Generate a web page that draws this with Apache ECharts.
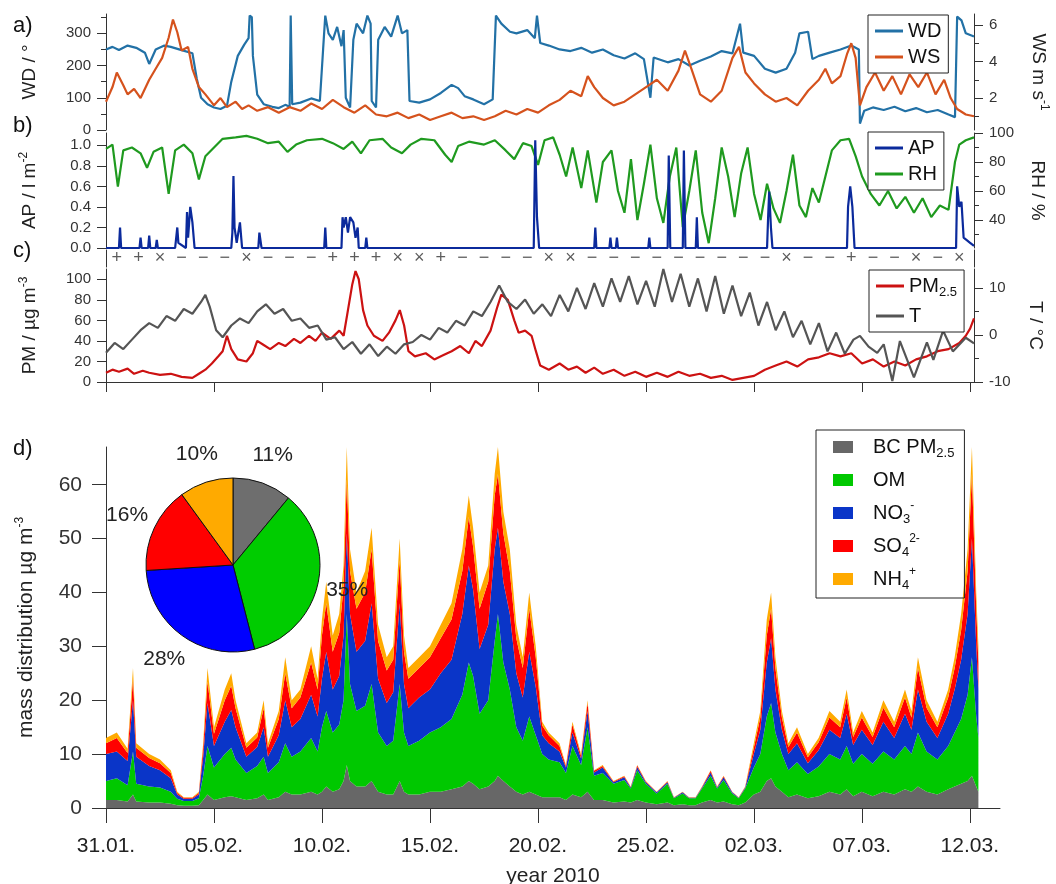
<!DOCTYPE html>
<html>
<head>
<meta charset="utf-8">
<script src="https://cdn.jsdelivr.net/npm/echarts@6/dist/echarts.min.js"></script>
<style>
html, body { margin: 0; padding: 0; background: #fff; }
#chart { width: 1056px; height: 884px; }
</style>
</head>
<body>
<div id="chart"></div>
<script>
const FONT = '"Liberation Sans", Arial, sans-serif';
const axisColor = '#333';

// x is in days since 31.01.2010 00:00
const dateTicks = [0, 5, 10, 15, 20, 25, 30, 35, 40];
const dateLabels = ['31.01.', '05.02.', '10.02.', '15.02.', '20.02.', '25.02.', '02.03.', '07.03.', '12.03.'];

// panel a
const wdTicks = [0, 100, 200, 300];
const wdMinor = [50, 150, 250, 350];
const wsTicks = [2, 4, 6];
const wsMinor = [1, 3, 5];
const wd = [[0,250],[0.3,258],[0.6,248],[1,262],[1.4,255],[1.8,240],[2,205],[2.3,250],[2.7,262],[3,258],[3.5,248],[4,238],[4.2,160],[4.4,100],[4.7,80],[5,70],[5.3,65],[5.6,75],[5.8,150],[6.1,230],[6.4,265],[6.6,285],[6.65,355],[6.75,350],[6.8,230],[7,110],[7.3,80],[7.7,72],[8,68],[8.3,78],[8.5,72],[8.55,355],[8.62,80],[9,85],[9.5,98],[9.9,90],[10.05,250],[10.15,355],[10.3,300],[10.5,280],[10.7,320],[10.9,260],[11,310],[11.1,100],[11.3,70],[11.45,280],[11.6,330],[11.9,300],[12.1,355],[12.25,330],[12.3,90],[12.5,70],[12.6,280],[12.9,320],[13.2,290],[13.5,355],[13.7,300],[13.95,310],[14.05,90],[14.5,85],[15,95],[15.5,115],[16,140],[16.3,130],[16.6,105],[17,95],[17.5,80],[17.9,95],[18.05,355],[18.3,330],[18.7,305],[19,300],[19.5,310],[19.85,285],[19.95,355],[20.1,270],[20.5,262],[21,250],[21.5,245],[22,255],[22.5,240],[23,250],[23.5,232],[24,222],[24.5,238],[24.9,220],[25.2,100],[25.35,225],[26,210],[26.5,220],[27,200],[27.5,215],[28,228],[28.5,245],[29,238],[29.35,330],[29.5,240],[30,230],[30.5,190],[31,178],[31.5,190],[31.9,240],[32.1,300],[32.5,305],[32.7,220],[33,230],[33.5,240],[34,250],[34.5,262],[34.85,250],[34.9,20],[35.1,60],[35.5,70],[36,62],[36.5,72],[37,58],[37.5,68],[38,55],[38.5,62],[39,48],[39.3,40],[39.4,352],[39.6,340],[39.8,300],[40.18,290]];
const ws = [[0,1.8],[0.3,2.6],[0.5,3.4],[0.8,2.7],[1,2.2],[1.3,2.5],[1.6,2.0],[2,3.0],[2.3,3.6],[2.6,4.2],[2.9,5.3],[3.1,6.3],[3.3,5.6],[3.5,4.6],[3.8,4.8],[4,3.6],[4.3,2.6],[4.6,2.2],[5,1.6],[5.3,2.0],[5.6,1.5],[6,1.8],[6.3,1.4],[6.6,1.6],[7,1.3],[7.5,1.5],[8,1.2],[8.5,1.5],[9,1.3],[9.5,1.7],[10,1.4],[10.5,1.9],[11,1.5],[11.5,1.2],[12,1.6],[12.5,1.1],[13,1.0],[13.5,1.2],[14,0.9],[14.5,1.1],[15,0.8],[15.5,1.0],[16,1.2],[16.5,0.9],[17,1.0],[17.5,0.8],[18,1.0],[18.5,1.3],[19,1.1],[19.5,1.4],[20,1.2],[20.5,1.6],[21,1.9],[21.5,2.4],[22,2.1],[22.3,3.2],[22.6,2.6],[23,2.0],[23.5,1.6],[24,1.8],[24.5,2.2],[25,2.6],[25.5,3.0],[26,2.4],[26.5,3.5],[26.8,4.6],[27.1,3.6],[27.5,2.2],[28,1.8],[28.5,2.4],[29,4.2],[29.3,4.8],[29.6,3.4],[30,2.8],[30.5,2.2],[31,1.8],[31.5,2.0],[32,1.6],[32.5,2.4],[33,3.0],[33.3,3.6],[33.6,2.8],[34,3.2],[34.3,4.4],[34.5,5.0],[34.7,4.2],[34.9,1.6],[35.2,2.6],[35.6,3.4],[36,2.4],[36.4,3.2],[36.8,2.2],[37.2,3.3],[37.6,2.6],[38,3.4],[38.4,2.2],[38.8,3.0],[39.1,2.0],[39.4,1.4],[39.8,1.1],[40.18,1.0]];

// panel b
const apTicks = [0, 0.2, 0.4, 0.6, 0.8, 1.0];
const rhTicks = [40, 60, 80, 100];
const rhMinor = [30, 50, 70, 90];
const ap = [[0,0],[0.6,0],[0.65,0.2],[0.7,0],[1.55,0],[1.6,0.1],[1.65,0],[1.95,0],[2.0,0.12],[2.05,0],[2.3,0],[2.35,0.08],[2.4,0],[3.2,0],[3.3,0.2],[3.35,0.05],[3.7,0],[3.75,0.35],[3.8,0.1],[3.9,0.4],[4.0,0.25],[4.1,0],[5.8,0],[5.85,0.15],[5.9,0.7],[5.95,0.2],[6.05,0.05],[6.2,0.25],[6.3,0],[7.05,0],[7.1,0.15],[7.2,0],[10.1,0],[10.15,0.2],[10.2,0],[10.9,0],[10.95,0.3],[11.0,0.2],[11.1,0.3],[11.2,0.15],[11.3,0.3],[11.45,0.25],[11.55,0.1],[11.65,0.2],[11.7,0],[12.0,0],[12.05,0.1],[12.1,0],[19.8,0],[19.87,1.05],[19.95,0.3],[20.05,0],[22.6,0],[22.65,0.2],[22.7,0],[23.3,0],[23.35,0.1],[23.4,0],[23.6,0],[23.65,0.1],[23.7,0],[25.1,0],[25.15,0.1],[25.2,0],[26.0,0],[26.05,0.9],[26.12,0],[26.7,0],[26.75,0.95],[26.82,0],[27.3,0],[27.35,0.3],[27.4,0],[30.6,0],[30.65,0.3],[30.7,0.55],[30.78,0.2],[30.85,0],[34.3,0],[34.35,0.4],[34.45,0.6],[34.55,0.4],[34.65,0],[39.35,0],[39.4,0.6],[39.5,0.4],[39.6,0.45],[39.7,0.1],[40,0.05],[40.18,0.02]];
const rh = [[0,89],[0.3,92],[0.55,63],[0.8,88],[1.2,90],[1.6,86],[1.9,76],[2.2,87],[2.6,90],[2.9,58],[3.2,88],[3.6,92],[4.0,86],[4.3,68],[4.6,84],[5.0,90],[5.4,96],[6,97],[6.5,98],[7,96],[7.5,93],[8,94],[8.4,87],[8.8,92],[9.3,95],[10,96],[10.5,93],[11,89],[11.4,94],[11.8,86],[12.2,95],[12.8,96],[13.2,90],[13.7,86],[14.1,92],[14.6,96],[15.2,95],[15.7,85],[16,80],[16.3,91],[16.8,94],[17.5,92],[18,95],[18.5,88],[18.9,82],[19.3,93],[19.7,91],[20.0,78],[20.3,95],[20.7,97],[21.0,85],[21.3,70],[21.6,90],[22.0,62],[22.3,88],[22.7,52],[23.0,80],[23.4,88],[23.7,60],[24.0,45],[24.3,82],[24.6,40],[24.9,65],[25.2,92],[25.5,55],[25.8,38],[26.1,70],[26.4,90],[26.7,35],[27.0,60],[27.3,88],[27.6,45],[27.9,24],[28.2,55],[28.5,90],[28.8,70],[29.1,42],[29.4,72],[29.7,90],[30.0,58],[30.3,40],[30.6,65],[30.9,48],[31.2,38],[31.5,60],[31.8,85],[32.1,50],[32.4,42],[32.7,62],[33.0,52],[33.3,70],[33.6,88],[34.0,95],[34.4,96],[34.7,84],[35.0,70],[35.4,58],[35.8,50],[36.2,60],[36.6,48],[37.0,56],[37.4,45],[37.8,55],[38.2,42],[38.6,50],[39.0,47],[39.3,80],[39.5,92],[39.8,95],[40.18,97]];

// weather regime of each day (row between b and c)
const regimes = ['+','+','×','−','−','−','×','−','−','−','+','+','+','×','×','+','−','−','−','−','×','×','−','−','−','−','−','−','−','−','−','×','−','−','+','−','−','×','−','×'];

// panel c
const pmTicks = [0, 20, 40, 60, 80, 100];
const tTicks = [-10, 0, 10];
const tMinor = [-5, 5];
const pm25 = [[0,9],[0.3,12],[0.6,10],[1,13],[1.3,8],[1.7,11],[2,9],[2.5,7],[3,8],[3.5,5],[4,4],[4.3,8],[4.6,12],[4.9,18],[5.2,25],[5.4,30],[5.6,45],[5.8,32],[6.1,22],[6.5,20],[6.8,28],[7,40],[7.3,36],[7.6,32],[8,38],[8.3,35],[8.7,42],[9,38],[9.4,45],[9.7,40],[10,48],[10.4,42],[10.8,50],[11,45],[11.2,70],[11.4,95],[11.55,108],[11.7,100],[11.9,70],[12.1,55],[12.4,45],[12.8,40],[13.1,48],[13.4,60],[13.6,70],[13.8,55],[14,30],[14.3,25],[14.8,28],[15.2,22],[15.6,26],[16,30],[16.4,35],[16.8,28],[17.1,40],[17.4,35],[17.8,50],[18.1,72],[18.3,85],[18.6,80],[18.9,60],[19.1,48],[19.4,50],[19.7,45],[19.9,30],[20.1,16],[20.5,12],[21,18],[21.4,12],[21.8,15],[22.2,9],[22.6,14],[23,8],[23.5,12],[24,6],[24.5,10],[25,5],[25.5,9],[26,5],[26.5,10],[27,6],[27.5,8],[28,4],[28.5,6],[29,2],[29.5,4],[30,6],[30.5,12],[31,16],[31.5,20],[32,15],[32.5,22],[33,24],[33.5,28],[34,25],[34.5,28],[35,18],[35.5,22],[36,15],[36.5,20],[37,16],[37.5,22],[38,25],[38.5,30],[39,32],[39.5,38],[39.8,45],[40,52],[40.18,62]];
const temp = [[0,-3.8],[0.4,-1.7],[0.8,-3],[1.2,-1],[1.6,1],[2,2.5],[2.4,1.5],[2.8,4],[3.2,3],[3.6,5.5],[4,4.5],[4.4,7],[4.6,8.5],[4.8,6],[5.1,1],[5.4,-0.5],[5.8,2],[6.2,3.5],[6.6,2.5],[7,5],[7.4,6.5],[7.8,4.5],[8.2,5.5],[8.6,3],[9,3.5],[9.4,1.5],[9.8,2],[10.2,-1],[10.6,-0.5],[11,-3],[11.4,-1.5],[11.8,-4],[12.2,-2],[12.6,-4.5],[13,-2.5],[13.4,-4],[13.8,-2],[14.2,-1.5],[14.6,0],[15,-1],[15.4,1.5],[15.8,0.5],[16.2,3],[16.6,2],[17,5],[17.4,4],[17.8,7],[18.2,10.5],[18.6,7],[19,5.5],[19.4,7.5],[19.8,4.5],[20.2,6.5],[20.6,4],[21,8.5],[21.4,5],[21.8,10],[22.2,5.5],[22.6,11],[23,6],[23.4,12],[23.8,7],[24.2,12.5],[24.6,6.5],[25,11.5],[25.4,6],[25.8,14],[26.2,7],[26.6,13],[27,6],[27.4,12],[27.8,5],[28.2,12.5],[28.6,4.5],[29,10.5],[29.4,4],[29.8,9],[30.2,2],[30.6,7],[31,1],[31.4,5],[31.8,-0.5],[32.2,3],[32.6,-2],[33,2.5],[33.4,-3.5],[33.8,0.5],[34.2,-4],[34.6,-1],[34.9,-0.2],[35.3,-2.5],[35.7,-3.8],[36.0,-2],[36.4,-9.8],[36.75,-1.3],[37.4,-9],[38.0,-1.6],[38.3,-5.3],[38.75,0.9],[39.2,-3.5],[39.8,-0.6],[40.18,-1.8]];

// panel d, mass concentrations in ug/m3
const massTicks = [0, 10, 20, 30, 40, 50, 60];
const dDays = [0,0.5,1,1.25,1.4,2,2.5,3,3.3,3.6,4,4.3,4.5,4.7,5,5.5,5.8,6,6.5,7,7.3,7.5,8,8.3,8.6,9,9.5,9.8,10,10.2,10.5,10.8,11,11.15,11.3,11.6,12,12.3,12.6,13,13.3,13.6,13.8,14,14.5,15,15.5,16,16.5,16.8,17,17.3,17.7,18,18.15,18.4,18.7,19,19.3,19.6,19.9,20.2,20.5,21,21.3,21.6,22,22.3,22.6,23,23.5,24,24.3,24.6,25,25.5,26,26.3,26.7,27,27.3,27.6,28,28.3,28.6,29,29.3,29.6,30,30.3,30.6,30.8,31,31.3,31.6,32,32.5,33,33.5,34,34.3,34.6,35,35.5,36,36.5,37,37.3,37.6,38,38.5,39,39.3,39.6,39.9,40.1,40.3,40.4];
const bc  = [1.5,1.5,1.2,2.5,1.2,1,1,0.8,0.5,0.4,0.4,0.5,1.5,2.5,1.5,2,2.2,2,1.5,1.8,2.5,1.5,2,3,2.5,2.5,3,2.5,3,4,3,3.5,5,8,5,4,4,5,3,2.5,2.5,5,3,2.5,2.5,3,3,3.5,4,5,4.5,3.5,4,5,6,5,4,3,2.5,3,2.5,2,2,2,1.5,2.5,2,3,1.5,1.5,1,1.2,1,1.5,1,0.7,1,0.5,0.7,0.5,0.5,1,1.5,1,1.2,0.7,0.5,1,2.5,3,5,5.5,4,3,2,2.5,1.8,2.2,3,2.5,3.5,2.2,3,2.2,3,2.5,3.5,3,4,3,2.5,3.5,4,4.5,5,6,4,3];
const om  = [3.5,4,3,8,3.3,3,2.8,2.2,1.2,0.9,0.9,1.3,4.5,9,6,8,9,7,5,6,7,5,6.5,9,7,8,10,8,12,14,11,12,15,28,18,14,15,18,11,9,10,18,11,9,10,11,12,13,17,22,20,14,16,26,30,22,18,12,10,14,11,8,7,6.5,5,9,6,12,4.5,5,3.5,4,2.6,5.5,3.5,2,3.5,1.3,2,1.3,1.3,2.6,4.5,2.6,4,2,1.3,2.6,5,7,12,14,10,7,5,6,4.5,5.5,7,6.5,8,6,7,6,7.5,6.5,8,7,10,7.5,6.5,8,10,12,16,22,13,10];
const no3 = [5,5,4.5,9.5,5,3.8,3.2,2.5,0.8,0.4,0.4,0.7,3.5,8,4,6,7,6,3,3.5,5.5,3,5,8,5.5,6,8,6.5,9,11,8,9,12,15,13,11,12,15,10,8,9,15,9,7,8,8,10,11,15,18,16,12,14,17,16,15,14,10,8,12,9,3.5,3,2,1,2.5,1.2,3,0.6,1,0.3,0.5,0.2,0.6,0.3,0.2,0.3,0.1,0.2,0.1,0.1,0.2,0.6,0.2,0.5,0.2,0.1,0.2,2.5,4.5,10,12,8,4.5,3,3.5,2,3,4.5,4,6,3.5,4.5,3.5,5.5,4,6,4.5,8,5.5,4,6,8,11,15,22,13,9];
const so4 = [2,2.5,1.5,4,1.7,1.5,1.3,1,0.3,0.2,0.2,0.3,1.7,4,2.3,4,4.5,3.5,1.7,1.8,3.5,1.7,3,5,3.5,4,6,5,8,9,7,8,9,10,8,8,9,10,7,6,6,8,6,5.5,5.5,6,6.5,7.5,8,9,8,7.5,8,10,10,9,8,6.5,5.5,8,5.5,1.8,1.5,1,0.3,1.5,0.5,1.5,0.3,0.3,0.1,0.2,0.1,0.3,0.1,0.05,0.1,0.05,0.05,0.05,0.05,0.1,0.3,0.1,0.2,0.05,0.05,0.1,1.2,2.3,5,5.5,4,2.3,1.3,2,1.1,1.5,2.3,2,3,1.5,2.3,1.5,2.6,2,3,2.3,4,2.6,2,3,4,5.5,8,12,7,5];
const nh4 = [1,1,0.8,2,0.8,0.7,0.7,0.5,0.2,0.1,0.1,0.2,0.8,2.5,1.2,2,2.3,1.5,0.8,0.9,1.5,0.8,1.5,3,1.5,1.5,3,2,3,4,3,3.5,4,6,4,3,4,4,3,2.5,2.5,4,3,2,2,2,2.5,3,4,4,3.5,3,3,4,5,4,4,2.5,2,3,2,0.7,0.5,0.5,0.2,0.5,0.3,0.5,0.1,0.2,0.1,0.1,0.1,0.1,0.1,0.05,0.1,0.05,0.05,0.05,0.05,0.1,0.1,0.1,0.1,0.05,0.05,0.1,0.8,1.2,3,3,2,1.2,0.7,1,0.6,0.8,1.2,1,1.5,0.8,1.2,0.8,1.4,1,1.5,1.2,2,1.4,1,1.5,2,3,4,5,3,3];

// inset pie, average composition in %
const pieNames = ['BC share', 'OM share', 'NO3 share', 'SO4 share', 'NH4 share'];
const pieShares = [11, 35, 28, 16, 10];

const colors = {
  WD: '#2271a6', WS: '#d5521d', AP: '#0b2a9c', RH: '#1f9a1f', PM: '#cc1212', T: '#555555',
  BC: '#676767', OM: '#00c800', NO3: '#0a35c8', SO4: '#ff0000', NH4: '#ffaa00'
};
const pieColors = ['#6e6e6e', '#00cc00', '#0000ff', '#ff0000', '#ffaa00'];

const rich = {
  sup: { fontSize: 12, lineHeight: 14, verticalAlign: 'top', fontFamily: FONT },
  sub: { fontSize: 13, lineHeight: 14, verticalAlign: 'bottom', fontFamily: FONT }
};

function xAx(grid, max, show) {
  return {
    type: 'value', gridIndex: grid, min: 0, max: max, show: show,
    splitLine: { show: false }
  };
}

function yAx(grid, pos, min, max, ticks, opts) {
  opts = opts || {};
  return {
    type: 'value', gridIndex: grid, position: pos, min: min, max: max,
    splitLine: { show: false },
    axisLine: { show: opts.line !== false, lineStyle: { color: axisColor, width: 1 } },
    axisTick: { show: ticks.length > 0, customValues: ticks, length: opts.tickLen || 9, lineStyle: { color: axisColor } },
    axisLabel: {
      show: !opts.noLabel, customValues: ticks, fontSize: opts.fontSize || 15, color: '#333',
      margin: opts.margin || 15, fontFamily: FONT, formatter: opts.formatter
    },
    name: opts.name, nameLocation: 'middle', nameGap: opts.nameGap, nameRotate: pos === 'left' ? 90 : -90,
    nameTextStyle: { fontSize: opts.nameSize || 19, color: '#222', fontFamily: FONT, lineHeight: 24, rich: rich }
  };
}

function lineSeries(name, data, idx, yi, color) {
  return {
    name: name, type: 'line', xAxisIndex: idx, yAxisIndex: yi, data: data,
    symbol: 'none', lineStyle: { color: color, width: 2.2 }, itemStyle: { color: color }
  };
}

// rows are [value, day]: the value column comes first so that the stack sums the values, not the days
function areaSeries(name, vals, color) {
  return {
    name: name, type: 'line', xAxisIndex: 4, yAxisIndex: 12, stack: 'mass',
    data: dDays.map((d, i) => [vals[i], d]), encode: { x: 1, y: 0 },
    symbol: 'none', lineStyle: { width: 0 }, itemStyle: { color: color },
    areaStyle: { color: color, opacity: 1 }
  };
}

function boxLegend(names, left, top, extra) {
  return Object.assign({
    data: names, orient: 'vertical', left: left, top: top, icon: 'rect',
    itemWidth: 28, itemHeight: 3, itemGap: 6, padding: [6, 7, 6, 7],
    borderColor: '#222', borderWidth: 1, backgroundColor: '#fff',
    selectedMode: false,
    textStyle: { fontSize: 20, lineHeight: 20, color: '#111', fontFamily: FONT, rich: rich }
  }, extra || {});
}

const massLabels = {
  BC: 'BC PM{sub|2.5}', OM: 'OM', NO3: 'NO{sub|3}{sup|-}', SO4: 'SO{sub|4}{sup|2-}', NH4: 'NH{sub|4}{sup|+}'
};

// grids keep the pixel boxes given here (no automatic shrinking for labels)
function box(top, height, right) {
  return { left: 106, right: right, top: top, height: height, outerBoundsMode: 'none', containLabel: false };
}

const chart = echarts.init(document.getElementById('chart'));
chart.setOption({
  animation: false,
  textStyle: { fontFamily: FONT },
  grid: [
    box(14, 116, 82),
    box(133, 115, 82),
    box(250, 17, 82),
    box(269, 113, 82),
    box(447, 361, 56)
  ],
  xAxis: [
    xAx(0, 40.18, false),
    xAx(1, 40.18, false),
    xAx(2, 40.18, false),
    Object.assign(xAx(3, 40.18, true), {
      offset: 8,
      axisLine: { lineStyle: { color: axisColor } },
      axisTick: { customValues: dateTicks, length: 10, lineStyle: { color: axisColor } },
      axisLabel: { show: false }
    }),
    Object.assign(xAx(4, 41.4, true), {
      axisLine: { lineStyle: { color: axisColor } },
      axisTick: { customValues: dateTicks, length: 15, lineStyle: { color: axisColor } },
      axisLabel: {
        customValues: dateTicks, fontSize: 21, color: '#222', margin: 28, fontFamily: FONT,
        formatter: v => dateLabels[dateTicks.indexOf(v)]
      },
      name: 'year 2010', nameLocation: 'middle', nameGap: 58,
      nameTextStyle: { fontSize: 21, color: '#222', fontFamily: FONT }
    })
  ],
  yAxis: [
    yAx(0, 'left', 0, 360, wdTicks, { name: 'WD / °', nameGap: 64 }),
    yAx(0, 'right', 0.25, 6.6, wsTicks, { name: 'WS m s{sup|-1}', nameGap: 52 }),
    yAx(0, 'left', 0, 360, wdMinor, { line: false, noLabel: true, tickLen: 5 }),
    yAx(0, 'right', 0.25, 6.6, wsMinor, { line: false, noLabel: true, tickLen: 5 }),
    yAx(1, 'left', 0, 1.12, apTicks, { name: 'AP / l m{sup|-2}', nameGap: 64, formatter: v => v.toFixed(1) }),
    yAx(1, 'right', 20.7, 100, rhTicks, { name: 'RH / %', nameGap: 51 }),
    yAx(1, 'right', 20.7, 100, rhMinor, { line: false, noLabel: true, tickLen: 5 }),
    yAx(2, 'left', 0, 1, [], { noLabel: true }),
    yAx(2, 'right', 0, 1, [], { noLabel: true }),
    yAx(3, 'left', 0, 110, pmTicks, { name: 'PM / µg m{sup|-3}', nameGap: 64 }),
    yAx(3, 'right', -10, 14, tTicks, { name: 'T / °C', nameGap: 49 }),
    yAx(3, 'right', -10, 14, tMinor, { line: false, noLabel: true, tickLen: 5 }),
    yAx(4, 'left', 0, 67, massTicks, {
      name: 'mass distribution µg m{sup|-3}', nameGap: 68, nameSize: 21,
      fontSize: 21, margin: 24, tickLen: 14
    })
  ],
  legend: [
    boxLegend(['WD', 'WS'], 868, 15),
    boxLegend(['AP', 'RH'], 868, 132),
    boxLegend(['PM2.5', 'T'], 869, 270, {
      itemGap: 4, padding: [3, 7, 3, 7],
      formatter: n => n === 'PM2.5' ? 'PM{sub|2.5}' : n,
      textStyle: { fontSize: 20, lineHeight: 26, color: '#111', fontFamily: FONT, rich: rich }
    }),
    {
      data: ['BC', 'OM', 'NO3', 'SO4', 'NH4'], orient: 'vertical', left: 816, top: 430,
      icon: 'rect', itemWidth: 20, itemHeight: 12, itemGap: 7, padding: [4, 10, 6, 17],
      borderColor: '#222', borderWidth: 1, selectedMode: false,
      formatter: n => massLabels[n],
      textStyle: { fontSize: 20, lineHeight: 26, color: '#111', fontFamily: FONT, rich: rich, padding: [0, 0, 0, 15] }
    }
  ],
  graphic: [
    { type: 'text', left: 13, top: 15, style: { text: 'a)', font: '22px ' + FONT, fill: '#111' } },
    { type: 'text', left: 13, top: 115, style: { text: 'b)', font: '22px ' + FONT, fill: '#111' } },
    { type: 'text', left: 13, top: 240, style: { text: 'c)', font: '22px ' + FONT, fill: '#111' } },
    { type: 'text', left: 13, top: 438, style: { text: 'd)', font: '22px ' + FONT, fill: '#111' } }
  ],
  series: [
    lineSeries('WD', wd, 0, 0, colors.WD),
    lineSeries('WS', ws, 0, 1, colors.WS),
    lineSeries('RH', rh, 1, 5, colors.RH),
    lineSeries('AP', ap, 1, 4, colors.AP),
    {
      type: 'scatter', xAxisIndex: 2, yAxisIndex: 7, silent: true,
      data: regimes.map((r, i) => [i + 0.5, 0.5]),
      symbolSize: 1, itemStyle: { color: 'transparent' },
      label: {
        show: true, position: 'inside', fontSize: 18, color: '#333', fontFamily: FONT,
        formatter: p => regimes[p.dataIndex]
      }
    },
    lineSeries('PM2.5', pm25, 3, 9, colors.PM),
    lineSeries('T', temp, 3, 10, colors.T),
    areaSeries('BC', bc, colors.BC),
    areaSeries('OM', om, colors.OM),
    areaSeries('NO3', no3, colors.NO3),
    areaSeries('SO4', so4, colors.SO4),
    areaSeries('NH4', nh4, colors.NH4),
    {
      type: 'pie', center: [233, 565], radius: 87, startAngle: 90, clockwise: true, z: 10,
      silent: true, label: { show: false }, labelLine: { show: false },
      itemStyle: { borderColor: '#111', borderWidth: 1 },
      data: pieNames.map((n, i) => ({ name: n, value: pieShares[i], itemStyle: { color: pieColors[i] } }))
    },
    {
      type: 'pie', center: [233, 565], radius: [100, 128], startAngle: 90, clockwise: true, z: 11,
      silent: true, itemStyle: { color: 'rgba(0,0,0,0)' }, labelLine: { show: false },
      label: { show: true, position: 'inside', formatter: '{c}%', fontSize: 21, color: '#222', fontFamily: FONT },
      data: pieNames.map((n, i) => ({ name: n, value: pieShares[i] }))
    }
  ]
});
</script>
</body>
</html>
